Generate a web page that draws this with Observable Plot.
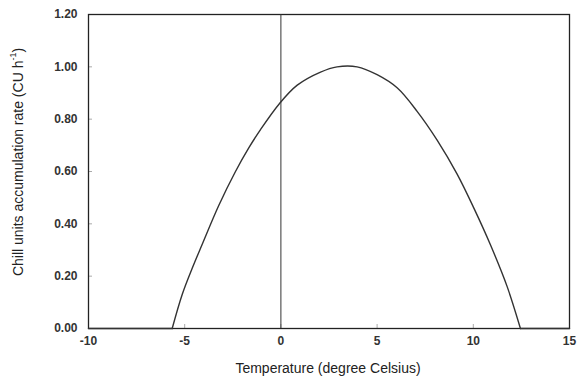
<!DOCTYPE html>
<html>
<head>
<meta charset="utf-8">
<script src="https://cdn.jsdelivr.net/npm/d3@7"></script>
<script src="https://cdn.jsdelivr.net/npm/@observablehq/plot@0.6"></script>
<style>
  html, body { margin: 0; padding: 0; background: #fff; }
  svg { display: block; }
</style>
</head>
<body>
<div id="chart"></div>
<script>
const temperature = [-10, -5.65, -5.13, -4.61, -4.10, -3.23, -2.36, -1.67, -1.06, -0.07, 0.85, 2.06, 2.92, 3.96, 5.0, 6.04, 7.08, 8.12, 9.16, 10.03, 10.89, 11.76, 12.45, 15];
const chillRate = [0, 0, 0.13, 0.23, 0.32, 0.47, 0.60, 0.69, 0.76, 0.86, 0.93, 0.98, 1.00, 1.00, 0.97, 0.92, 0.83, 0.72, 0.59, 0.46, 0.32, 0.16, 0, 0];
const xTicks = [-10, -5, 0, 5, 10, 15];
const yTicks = [0, 0.2, 0.4, 0.6, 0.8, 1.0, 1.2];

const data = temperature.map((t, i) => ({t, v: chillRate[i]}));
// split into flat zero parts and the curved part (shared end points)
const firstNZ = chillRate.findIndex(v => v > 0);
const lastNZ = chillRate.length - 1 - [...chillRate].reverse().findIndex(v => v > 0);
const flats = [
  ...data.slice(0, firstNZ).map(d => ({...d, s: "L"})),
  ...data.slice(lastNZ + 1).map(d => ({...d, s: "R"}))
];
const curved = data.slice(firstNZ - 1, lastNZ + 2);
const font = "Liberation Sans, Arial, sans-serif";

const chart = Plot.plot({
  width: 577,
  height: 379,
  marginLeft: 88,
  marginRight: 8,
  marginTop: 14,
  marginBottom: 51,
  style: {fontFamily: font, fontSize: "12px", color: "#222"},
  x: {domain: [-10, 15]},
  y: {domain: [0, 1.2]},
  marks: [
    Plot.axisX({ticks: xTicks, tickSize: -4, tickPadding: 12, stroke: "#aaa",
      tickFormat: d => String(d), label: null, fontSize: 12, fontWeight: "bold", fill: "#333"}),
    Plot.axisY({ticks: yTicks, tickSize: -4, tickPadding: 15, stroke: "#aaa", tickFormat: d3.format(".2f"),
      label: null, fontSize: 12, fontWeight: "bold", fill: "#333"}),
    Plot.frame({stroke: "#222", strokeWidth: 1.3}),
    Plot.ruleX([0], {stroke: "#333", strokeWidth: 1}),
    Plot.line(flats, {x: "t", y: "v", z: "s", stroke: "#333", strokeWidth: 1.4}),
    Plot.line(curved, {x: "t", y: "v", stroke: "#333", strokeWidth: 1.4, curve: "catmull-rom"})
  ]
});

const svg = d3.select(chart);
svg.append("text")
  .attr("x", 328).attr("y", 369)
  .attr("text-anchor", "middle")
  .attr("dominant-baseline", "middle")
  .attr("font-family", font)
  .attr("font-size", 14)
  .attr("fill", "#222")
  .text("Temperature (degree Celsius)");

const yt = svg.append("text")
  .attr("transform", "translate(19,162) rotate(-90)")
  .attr("text-anchor", "middle")
  .attr("dominant-baseline", "middle")
  .attr("font-family", font)
  .attr("font-size", 14)
  .attr("fill", "#222");
yt.append("tspan").text("Chill units accumulation rate (CU h");
yt.append("tspan").attr("baseline-shift", "super").attr("font-size", 9).text("-1");
yt.append("tspan").text(")");

document.getElementById("chart").appendChild(chart);
</script>
</body>
</html>
